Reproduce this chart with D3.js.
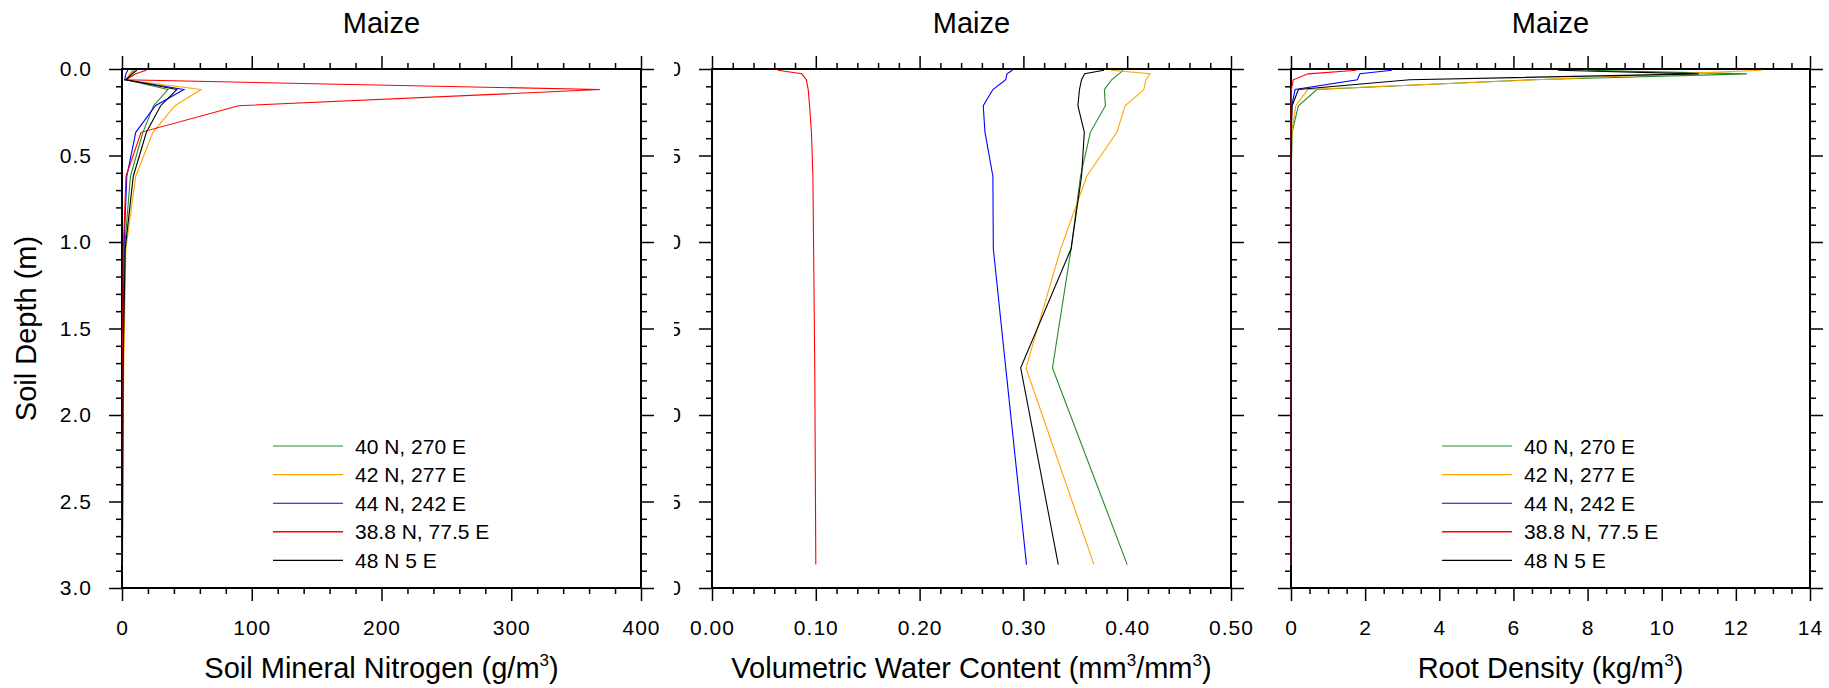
<!DOCTYPE html>
<html>
<head>
<meta charset="utf-8">
<script src="https://cdn.jsdelivr.net/npm/d3@7"></script>
<style>
  body { margin: 0; background: #fff; }
  svg { display: block; }
  text { font-family: "Liberation Sans", Arial, Helvetica, sans-serif; fill: #000; }
</style>
</head>
<body>
<div id="chart"></div>
<script>
// soil layer node depths (m)
const depths = [0.0071, 0.0279, 0.0623, 0.1189, 0.2122, 0.3661, 0.6198, 1.0380, 1.7276, 2.8646]

const site_names = ["40 N, 270 E", "42 N, 277 E", "44 N, 242 E", "38.8 N, 77.5 E", "48 N 5 E"]
const site_colors = ["#228b22", "#ffa500", "#0000ff", "#ff0000", "#000000"]

// soil mineral nitrogen (g/m3), one row per site
const nitrogen_values = [
  [9.5, 7, 3, 35.4, 24.3, 16.1, 6.5, 2.0, 0.8, 0.3],
  [8, 6, 3, 60.9, 40.8, 23.8, 10.6, 3.0, 1.3, 0.4],
  [4.5, 3, 2, 47.7, 25.7, 10.6, 3.7, 1.5, 0.6, 0.2],
  [18.8, 10.6, 2.9, 368.4, 89.9, 14.7, 3.1, 1.0, 0.5, 0.2],
  [11.4, 8, 3, 42.2, 29.8, 18.8, 8.7, 2.5, 0.8, 0.3]
]

// volumetric water content (mm3/mm3)
const water_values = [
  [0.396, 0.392, 0.385, 0.378, 0.379, 0.3645, 0.355, 0.346, 0.328, 0.400],
  [0.384, 0.422, 0.418, 0.416, 0.398, 0.390, 0.361, 0.336, 0.3025, 0.368],
  [0.2895, 0.2842, 0.283, 0.2706, 0.2613, 0.263, 0.2706, 0.271, 0.283, 0.303],
  [0.0635, 0.0865, 0.0909, 0.0927, 0.094, 0.0958, 0.0972, 0.0979, 0.099, 0.100],
  [0.3776, 0.359, 0.356, 0.354, 0.3525, 0.3587, 0.356, 0.346, 0.2974, 0.3336]
]

// root density (kg/m3)
const root_values = [
  [8.0, 12.3, 6.5, 0.7, 0.2, 0.03, 0.005, 0, 0, 0],
  [12.7, 10.4, 6.6, 0.45, 0.13, 0.02, 0.005, 0, 0, 0],
  [2.72, 1.86, 1.79, 0.11, 0.02, 0.005, 0, 0, 0, 0],
  [1.77, 0.46, 0.06, 0.01, 0.005, 0, 0, 0, 0, 0],
  [7.2, 11.0, 3.2, 0.2, 0.03, 0.01, 0, 0, 0, 0]
]

const depth_ticks = [0, 0.5, 1.0, 1.5, 2.0, 2.5, 3.0]
const nitrogen_ticks = [0, 100, 200, 300, 400]
const water_ticks = [0, 0.1, 0.2, 0.3, 0.4, 0.5]
const root_ticks = [0, 2, 4, 6, 8, 10, 12, 14]

let width = 1829
let height = 688
let plot_top = 69
let plot_size = 519
let plot_bottom = plot_top + plot_size

let major_len = 13
let minor_len = 6
let tick_font = 21
let title_font = 29

let panels = [
  {left: 122, values: nitrogen_values, domain: [0, 400], ticks: nitrogen_ticks, minor: 20,
   fmt: d3.format("d"), y_labels: "full", legend: true,
   xtitle: [["Soil Mineral Nitrogen (g/m", false], ["3", true], [")", false]]},
  {left: 712, values: water_values, domain: [0, 0.5], ticks: water_ticks, minor: 0.02,
   fmt: d3.format(".2f"), y_labels: "clipped", legend: false,
   xtitle: [["Volumetric Water Content (mm", false], ["3", true], ["/mm", false], ["3", true], [")", false]]},
  {left: 1291, values: root_values, domain: [0, 14], ticks: root_ticks, minor: 0.5,
   fmt: d3.format("d"), y_labels: "none", legend: true,
   xtitle: [["Root Density (kg/m", false], ["3", true], [")", false]]}
]

let svg = d3.select("#chart").append("svg")
  .attr("width", width).attr("height", height)
  .attr("viewBox", [0, 0, width, height])

let y = d3.scaleLinear().domain([0, 3]).range([plot_top, plot_bottom])

let minorOf = (domain, step, majors) => d3.range(domain[0], domain[1] + step / 2, step)
  .filter(v => !majors.some(m => Math.abs(m - v) < step / 10))

let depth_minor = minorOf([0, 3], 0.1, depth_ticks)

function styleAxis(g, with_labels) {
  g.select(".domain").remove()
  g.selectAll(".tick line").attr("stroke", "#000").attr("stroke-width", 1.5)
  g.selectAll("text")
    .attr("font-family", "Liberation Sans, Arial, sans-serif")
    .attr("font-size", tick_font)
    .attr("letter-spacing", 1)
    .attr("fill", "#000")
  if (!with_labels) g.selectAll("text").remove()
}

// clip used for the middle panel's depth labels (partly hidden by the first panel)
svg.append("clipPath").attr("id", "clip-mid")
  .append("rect").attr("x", 674).attr("y", 0).attr("width", 200).attr("height", height)

panels.forEach((p, k) => {
  let right = p.left + plot_size
  let x = d3.scaleLinear().domain(p.domain).range([p.left, right])
  let x_minor = minorOf(p.domain, p.minor, p.ticks)
  let g = svg.append("g")

  // bottom axis
  g.append("g").attr("transform", `translate(0,${plot_bottom})`)
    .call(d3.axisBottom(x).tickValues(p.ticks).tickFormat(p.fmt).tickSize(major_len).tickPadding(19))
    .call(a => styleAxis(a, true))
  g.append("g").attr("transform", `translate(0,${plot_bottom})`)
    .call(d3.axisBottom(x).tickValues(x_minor).tickSize(minor_len))
    .call(a => styleAxis(a, false))
  // top axis
  g.append("g").attr("transform", `translate(0,${plot_top})`)
    .call(d3.axisTop(x).tickValues(p.ticks).tickSize(major_len))
    .call(a => styleAxis(a, false))
  g.append("g").attr("transform", `translate(0,${plot_top})`)
    .call(d3.axisTop(x).tickValues(x_minor).tickSize(minor_len))
    .call(a => styleAxis(a, false))

  // left axis
  let left_wrap = g.append("g")
  if (p.y_labels === "clipped") left_wrap.attr("clip-path", "url(#clip-mid)")
  left_wrap.append("g").attr("transform", `translate(${p.left},0)`)
    .call(d3.axisLeft(y).tickValues(depth_ticks).tickFormat(d3.format(".1f")).tickSize(major_len).tickPadding(17))
    .call(a => styleAxis(a, p.y_labels !== "none"))
  g.append("g").attr("transform", `translate(${p.left},0)`)
    .call(d3.axisLeft(y).tickValues(depth_minor).tickSize(minor_len))
    .call(a => styleAxis(a, false))
  // right axis
  g.append("g").attr("transform", `translate(${right},0)`)
    .call(d3.axisRight(y).tickValues(depth_ticks).tickSize(major_len))
    .call(a => styleAxis(a, false))
  g.append("g").attr("transform", `translate(${right},0)`)
    .call(d3.axisRight(y).tickValues(depth_minor).tickSize(minor_len))
    .call(a => styleAxis(a, false))

  // frame
  g.append("rect")
    .attr("x", p.left).attr("y", plot_top)
    .attr("width", plot_size).attr("height", plot_size)
    .attr("fill", "none").attr("stroke", "#000").attr("stroke-width", 2)

  // profiles
  let line = d3.line().x(d => x(d[0])).y(d => y(d[1]))
  p.values.forEach((vals, i) => {
    g.append("path")
      .datum(vals.map((v, j) => [v, depths[j]]))
      .attr("d", line)
      .attr("fill", "none")
      .attr("stroke", site_colors[i])
      .attr("stroke-width", 1.1)
  })

  // title
  g.append("text")
    .attr("x", p.left + plot_size / 2).attr("y", 33)
    .attr("text-anchor", "middle")
    .attr("font-size", title_font)
    .text("Maize")

  // x title with superscripts
  let xt = g.append("text")
    .attr("x", p.left + plot_size / 2).attr("y", 678)
    .attr("text-anchor", "middle")
    .attr("font-size", title_font)
  let raised = false
  p.xtitle.forEach(([s, sup]) => {
    let t = xt.append("tspan").text(s)
    if (sup && !raised) { t.attr("dy", -12).attr("font-size", 17); raised = true }
    else if (!sup && raised) { t.attr("dy", 12); raised = false }
    else if (sup) t.attr("font-size", 17)
  })

  // legend
  if (p.legend) {
    let lg = g.append("g")
    site_names.forEach((name, i) => {
      let cy = 446 + i * 28.6
      lg.append("line")
        .attr("x1", p.left + 151).attr("x2", p.left + 221)
        .attr("y1", cy).attr("y2", cy)
        .attr("stroke", site_colors[i]).attr("stroke-width", i === 3 ? 1.6 : 1.1)
      lg.append("text")
        .attr("x", p.left + 233).attr("y", cy + 7.5)
        .attr("font-size", tick_font)
        .text(name)
    })
  }
})

// y title
svg.append("text")
  .attr("transform", `translate(36,${(plot_top + plot_bottom) / 2}) rotate(-90)`)
  .attr("text-anchor", "middle")
  .attr("font-size", title_font)
  .text("Soil Depth (m)")
</script>
</body>
</html>
